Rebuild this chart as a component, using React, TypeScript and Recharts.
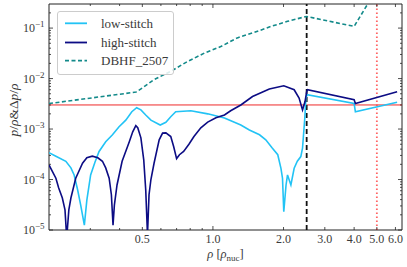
import React from 'react';
import { LineChart, Line, XAxis, YAxis, ReferenceLine, ReferenceArea, Legend } from 'recharts';

// ---------- data (rho in units of rho_nuc, relative deviation) ----------
const lowStitch: [number, number][] = [
  [0.2, 3.4e-4], [0.214, 2.9e-4], [0.236, 2.3e-4], [0.248, 1.7e-4], [0.256, 1.23e-4],
  [0.265, 6.2e-5], [0.273, 3.1e-5], [0.283, 1.25e-5], [0.29, 3.9e-5], [0.301, 1.23e-4],
  [0.314, 2.2e-4], [0.327, 3.6e-4], [0.349, 5.6e-4], [0.373, 7.7e-4], [0.397, 1.1e-3],
  [0.425, 1.5e-3], [0.451, 2.2e-3], [0.473, 2.65e-3], [0.493, 2.4e-3], [0.517, 1.9e-3],
  [0.544, 1.5e-3], [0.596, 1.2e-3], [0.63, 1.36e-3], [0.661, 1.75e-3], [0.694, 2.2e-3],
  [0.805, 2.3e-3], [0.95, 2.0e-3], [1.12, 1.66e-3], [1.315, 1.2e-3], [1.43, 9.6e-4],
  [1.58, 7.7e-4], [1.68, 6.1e-4], [1.79, 4.2e-4], [1.89, 3.1e-4], [1.95, 1.67e-4],
  [1.98, 1.06e-4], [2.005, 2.3e-5], [2.05, 7.8e-5], [2.08, 1.23e-4], [2.15, 7.8e-5],
  [2.22, 1.67e-4], [2.29, 2.3e-4], [2.37, 2.85e-4], [2.41, 4.2e-4], [2.465, 1.66e-3],
  [2.49, 4.1e-3], [2.52, 4.8e-3], [4.0, 3.2e-3], [4.05, 2.2e-3], [6.1, 3.4e-3],
];

const highStitch: [number, number][] = [
  [0.2, 1.95e-4], [0.214, 1.06e-4], [0.22, 6.8e-5], [0.228, 4.3e-5], [0.234, 2.5e-5],
  [0.238, 7e-6], [0.243, 2.5e-5], [0.248, 4.3e-5], [0.26, 1.06e-4], [0.278, 2.1e-4],
  [0.29, 2.7e-4], [0.306, 2.9e-4], [0.323, 2.7e-4], [0.338, 2.3e-4], [0.349, 1.7e-4],
  [0.361, 1.06e-4], [0.369, 5e-5], [0.375, 1.25e-5], [0.38, 3.1e-5], [0.39, 7.8e-5],
  [0.41, 2.3e-4], [0.44, 5.6e-4], [0.455, 8.8e-4], [0.469, 1.17e-3], [0.478, 1.06e-3],
  [0.493, 6.7e-4], [0.507, 2.45e-4], [0.517, 6.2e-5], [0.526, 8e-6], [0.534, 5e-5],
  [0.544, 1.0e-4], [0.561, 2.1e-4], [0.59, 6.1e-4], [0.61, 8.3e-4], [0.63, 8.4e-4],
  [0.661, 7.1e-4], [0.68, 4.5e-4], [0.7, 2.6e-4], [0.72, 3.1e-4], [0.75, 3.6e-4],
  [0.79, 5.0e-4], [0.83, 7.1e-4], [0.888, 1.06e-3], [0.95, 1.37e-3], [1.03, 1.67e-3],
  [1.12, 1.9e-3], [1.19, 2.3e-3], [1.315, 3.0e-3], [1.475, 4.4e-3], [1.74, 6.2e-3],
  [2.005, 7.2e-3], [2.22, 6.0e-3], [2.33, 4.1e-3], [2.41, 2.4e-3], [2.47, 3.5e-3],
  [2.51, 5.5e-3], [2.53, 6.0e-3], [4.0, 3.8e-3], [4.05, 3.2e-3], [6.1, 5.5e-3],
];

const dbhf2507: [number, number][] = [
  [0.2, 3.2e-3], [0.47, 5.4e-3], [0.5, 6.5e-3], [0.56, 9.5e-3], [0.66, 1.39e-2],
  [0.78, 2.18e-2], [0.92, 3.2e-2], [1.08, 4.3e-2], [1.27, 6.4e-2], [1.5, 8.2e-2],
  [1.77, 0.108], [2.08, 0.136], [2.5, 0.17], [4.0, 0.108], [4.57, 0.3], [5.0, 0.55],
];

const thresholdValue = 3e-3;
const stitchDensity = 2.51;
const maxDensity = 5.0;

const seriesNames = ['low-stitch', 'high-stitch', 'DBHF_2507'];
const seriesColors = ['#22c3f5', '#0c0c84', '#138a8a'];
const seriesDash = ['', '', '4 2.5'];

const xMajorTicks = [0.5, 1, 2, 3, 4, 5, 6];
const xTickLabels = ['0.5', '1.0', '2.0', '3.0', '4.0', '5.0', '6.0'];
const xMinorTicks = [0.3, 0.4, 0.6, 0.7, 0.8, 0.9];
const yMajorTicks = [1e-5, 1e-4, 1e-3, 1e-2, 1e-1];
const yTickExps = ['\u22125', '\u22124', '\u22123', '\u22122', '\u22121'];

// ---------- layout ----------
const W = 407;
const H = 267;
const PLOT_TOP = 4;
const PLOT_RIGHT = 402;
const FONT = '"Liberation Serif", "DejaVu Serif", serif';
const TEXT = '#3a3a3a';
const AXIS = '#222';

const toRows = (pairs: [number, number][]) => pairs.map(([x, y]) => ({ x, y }));
const seriesData = [toRows(lowStitch), toRows(highStitch), toRows(dbhf2507)];

const yMinorTicks: number[] = [];
for (const d of yMajorTicks) {
  for (let m = 2; m <= 9; m++) {
    const v = m * d;
    if (v <= 0.3) yMinorTicks.push(v);
  }
}
const xAllTicks = [...xMajorTicks, ...xMinorTicks].sort((a, b) => a - b);
const yAllTicks = [...yMajorTicks, ...yMinorTicks].sort((a, b) => a - b);

function XTick(props: any) {
  const { x, y, payload } = props;
  const v = payload.value;
  const idx = xMajorTicks.indexOf(v);
  const len = v === 1 ? 4 : idx >= 0 ? 3 : 2;
  return (
    <g>
      <line x1={x} x2={x} y1={y} y2={y - len} stroke={AXIS} strokeWidth={0.8} />
      <line x1={x} x2={x} y1={PLOT_TOP} y2={PLOT_TOP + len} stroke={AXIS} strokeWidth={0.8} />
      {idx >= 0 && (
        <text x={x} y={y + 13} textAnchor="middle" fontFamily={FONT} fontSize={12} fill={TEXT}>
          {xTickLabels[idx]}
        </text>
      )}
    </g>
  );
}

function YTick(props: any) {
  const { x, y, payload } = props;
  const v = payload.value;
  const lg = Math.log10(v);
  const isMajor = Math.abs(lg - Math.round(lg)) < 1e-9;
  const idx = isMajor ? yMajorTicks.findIndex((t) => Math.abs(Math.log10(t) - lg) < 1e-9) : -1;
  const len = isMajor ? 4 : 2;
  return (
    <g>
      <line x1={x} x2={x + len} y1={y} y2={y} stroke={AXIS} strokeWidth={0.8} />
      <line x1={PLOT_RIGHT} x2={PLOT_RIGHT - len} y1={y} y2={y} stroke={AXIS} strokeWidth={0.8} />
      {idx >= 0 && (
        <text x={x - 4.5} y={y + 4} textAnchor="end" fontFamily={FONT} fontSize={12} fill={TEXT}>
          10
          <tspan dy={-5} fontSize={9}>
            {yTickExps[idx]}
          </tspan>
        </text>
      )}
    </g>
  );
}

function XTitle(props: any) {
  const vb = props.viewBox || { x: 49, width: 353, y: 230 };
  const cx = vb.x + vb.width / 2;
  return (
    <text x={cx} y={258} textAnchor="middle" fontFamily={FONT} fontSize={12.5} fill={TEXT}>
      <tspan fontStyle="italic">ρ</tspan> [<tspan fontStyle="italic">ρ</tspan>
      <tspan dy={3} fontSize={9}>nuc</tspan>
      <tspan dy={-3}>]</tspan>
    </text>
  );
}

function YTitle() {
  return (
    <text
      transform="translate(18,110) rotate(-90)"
      textAnchor="middle"
      fontFamily={FONT}
      fontSize={13.5}
      fill={TEXT}
    >
      <tspan fontStyle="italic">p</tspan>/<tspan fontStyle="italic">ρ</tspan>&amp;Δ
      <tspan fontStyle="italic">p</tspan>/<tspan fontStyle="italic">ρ</tspan>
    </text>
  );
}

function LegendBox() {
  const rows = [12.3, 31.5, 49.7];
  return (
    <svg width={117} height={64} style={{ display: 'block' }}>
      <rect x={0.5} y={0.5} width={116} height={63} rx={2.5} fill="#fff" fillOpacity={0.85} stroke="#cccccc" />
      {seriesNames.map((name, i) => (
        <g key={name}>
          <line
            x1={8}
            x2={30}
            y1={rows[i]}
            y2={rows[i]}
            stroke={seriesColors[i]}
            strokeWidth={1.8}
            strokeDasharray={seriesDash[i] || undefined}
          />
          <text x={44} y={rows[i] + 4.5} fontFamily={FONT} fontSize={13} fill={TEXT}>
            {name}
          </text>
        </g>
      ))}
    </svg>
  );
}

export default function App() {
  return (
    <div style={{ position: 'absolute', left: 0, top: 0, width: W, height: H, background: '#fff' }}>
      <LineChart width={W} height={H} margin={{ top: PLOT_TOP, right: W - PLOT_RIGHT, left: 0, bottom: 0 }}>
        <XAxis
          dataKey="x"
          type="number"
          scale="log"
          domain={[0.2, 6.4]}
          allowDataOverflow
          ticks={xAllTicks}
          interval={0}
          tick={<XTick />}
          tickLine={false}
          tickSize={0}
          tickMargin={0}
          axisLine={false}
          height={37}
          label={XTitle}
        />
        <YAxis
          type="number"
          scale="log"
          domain={[1e-5, 0.3]}
          allowDataOverflow
          ticks={yAllTicks}
          interval={0}
          tick={<YTick />}
          tickLine={false}
          tickSize={0}
          tickMargin={0}
          axisLine={false}
          width={49}
          label={YTitle}
        />
        <ReferenceArea
          x1={0.2}
          x2={6.4}
          y1={1e-5}
          y2={0.3}
          fill="none"
          stroke={AXIS}
          strokeWidth={1}
          ifOverflow="visible"
        />
        <ReferenceLine y={thresholdValue} stroke="#ee2a2a" strokeWidth={1} />
        <ReferenceLine x={stitchDensity} stroke="#111" strokeWidth={1.8} strokeDasharray="5 3" />
        <ReferenceLine x={maxDensity} stroke="#ff4a4a" strokeOpacity={0.85} strokeWidth={1.8} strokeDasharray="1.6 2.4" />
        {seriesNames.map((name, i) => (
          <Line
            key={name}
            name={name}
            data={seriesData[i]}
            dataKey="y"
            type="linear"
            stroke={seriesColors[i]}
            strokeWidth={1.6}
            strokeDasharray={seriesDash[i] || undefined}
            dot={false}
            activeDot={false}
            isAnimationActive={false}
          />
        ))}
        <Legend
          layout="vertical"
          align="center"
          verticalAlign="middle"
          wrapperStyle={{ left: 57, top: 11, width: 117, height: 64 }}
          content={() => <LegendBox />}
        />
      </LineChart>
    </div>
  );
}
